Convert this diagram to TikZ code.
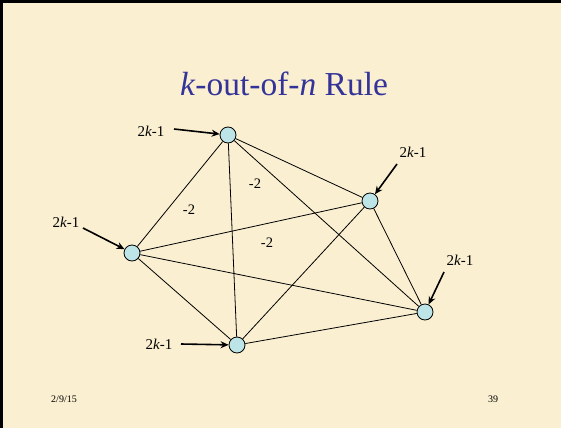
\documentclass[tikz,border=0pt]{standalone}
\usepackage{fontspec}
\setmainfont{Liberation Serif}
\usetikzlibrary{arrows.meta}
\definecolor{parch}{RGB}{250,239,209}
\definecolor{titleblue}{RGB}{51,51,153}
\definecolor{vfill}{RGB}{189,228,231}
\tikzset{
  vert/.style={circle,draw=black,line width=0.8pt,fill=vfill,minimum size=16pt,inner sep=0pt},
  edge/.style={line width=0.8pt},
  lbl/.style={font=\fontsize{15}{18}\selectfont,inner sep=1pt},
  wlbl/.style={font=\fontsize{14.5}{17}\selectfont,inner sep=1pt},
  inarrow/.style={line width=1.6pt,-{Stealth[length=8pt,width=7pt]}},
}
\begin{document}
\begin{tikzpicture}[x=1pt,y=-1pt]
\fill[parch] (0,0) rectangle (561,428);
\useasboundingbox (0,0) rectangle (561,428);
\draw[line width=3pt] (0,1.5) -- (561,1.5);
\draw[line width=3pt] (1.5,0) -- (1.5,428);
\node[text=titleblue,font=\fontsize{33.5}{40}\selectfont] (title) at (284,84) {\textit{k}-out-of-\textit{n} Rule};
% vertices
\node[vert] (A) at (228,135) {};
\node[vert] (B) at (370,201) {};
\node[vert] (C) at (132,253) {};
\node[vert] (D) at (237,345) {};
\node[vert] (E) at (425,312) {};
% edges (complete graph)
\foreach \u/\v in {A/B,A/C,A/D,A/E,B/C,B/D,B/E,C/D,C/E,D/E}
  \draw[edge] (\u) -- (\v);
% weights
\node[wlbl] (w1) at (189,210) {-2};
\node[wlbl] (w2) at (255,184) {-2};
\node[wlbl] (w3) at (267,243) {-2};
% external inputs
\node[lbl] (lA) at (151,131) {2\textit{k}-1};
\node[lbl] (lB) at (413,152) {2\textit{k}-1};
\node[lbl] (lC) at (66,222) {2\textit{k}-1};
\node[lbl] (lE) at (460,260) {2\textit{k}-1};
\node[lbl] (lD) at (159,344) {2\textit{k}-1};
\coordinate (sA) at (174,129);
\coordinate (sB) at (397,164);
\coordinate (sC) at (83,228);
\coordinate (sE) at (444,272);
\coordinate (sD) at (181,344);
\draw[inarrow] (sA) -- (A);
\draw[inarrow] (sB) -- (B);
\draw[inarrow] (sC) -- (C);
\draw[inarrow] (sE) -- (E);
\draw[inarrow] (sD) -- (D);
% footer
\node[font=\fontsize{10}{12}\selectfont] (date) at (64,399) {2/9/15};
\node[font=\fontsize{10}{12}\selectfont] (page) at (493,399) {39};
\end{tikzpicture}
\end{document}
